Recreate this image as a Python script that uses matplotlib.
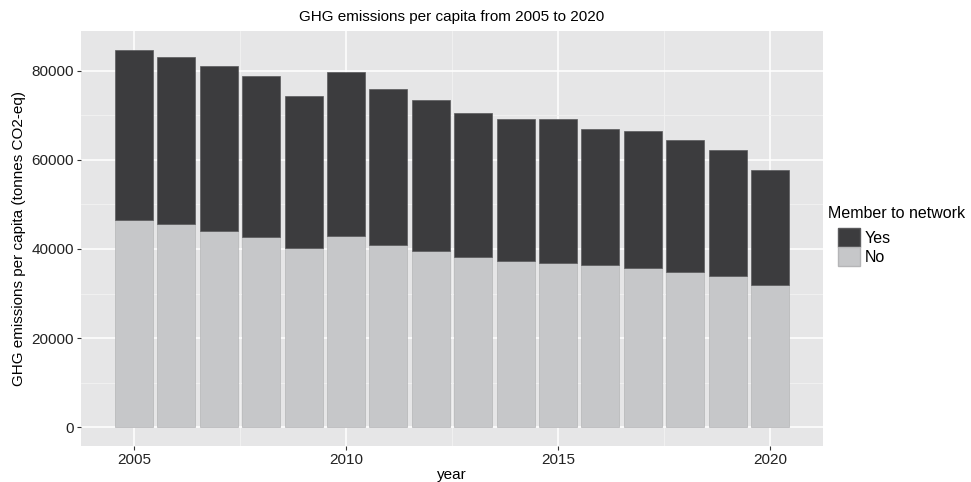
import numpy as np
import matplotlib
matplotlib.use("Agg")
import matplotlib.pyplot as plt
from matplotlib.patches import Patch

plt.rcParams['font.family'] = ['Liberation Sans', 'DejaVu Sans']

# data
years = np.arange(2005, 2021)
total = [84700, 83200, 81100, 78900, 74400, 79800, 76000, 73400,
         70500, 69100, 69100, 66900, 66400, 64400, 62200, 57700]
no_member = [46500, 45500, 44000, 42600, 40200, 43000, 41000, 39500,
             38300, 37300, 36900, 36400, 35700, 34800, 33900, 31800]
yes_member = [t - n for t, n in zip(total, no_member)]

dark = '#3c3c3e'
light = '#c6c7c9'

fig = plt.figure(figsize=(9.71, 4.82), dpi=100)
ax = fig.add_axes([0.0834, 0.0747, 0.7642, 0.861])
ax.set_facecolor('#e6e6e7')

ax.bar(years, no_member, width=0.9, color=light, edgecolor='#b5b5b7', linewidth=0.5, zorder=3)
ax.bar(years, yes_member, bottom=no_member, width=0.9, color=dark,
       edgecolor='#5a5a5c', linewidth=0.5, zorder=3)

ax.set_xlim(2003.75, 2021.25)
ax.set_ylim(-4235, 88935)
ax.set_xticks([2005, 2010, 2015, 2020])
ax.set_xticks([2007.5, 2012.5, 2017.5], minor=True)
ax.set_yticks([0, 20000, 40000, 60000, 80000])
ax.set_yticks([10000, 30000, 50000, 70000], minor=True)
ax.grid(which='major', color='white', linewidth=1.1, zorder=0)
ax.grid(which='minor', color='#f2f2f2', linewidth=0.6, zorder=0)
ax.set_axisbelow(True)
for s in ax.spines.values():
    s.set_visible(False)
ax.tick_params(which='major', length=3, pad=2, color='#333333', labelcolor='#222222', labelsize=11)
ax.tick_params(which='minor', length=0)

ax.set_title('GHG emissions per capita from 2005 to 2020', fontsize=11, pad=7)
ax.set_xlabel('year', fontsize=11, labelpad=1)
ax.set_ylabel('GHG emissions per capita (tonnes CO2-eq)', fontsize=11, labelpad=4)

# legend, title drawn separately so the keys sit indented like ggplot
fig.text(828 / 971, 1 - 213 / 482, 'Member to network', fontsize=11.5, va='center', ha='left')
handles = [Patch(facecolor=dark, edgecolor='#5a5a5c'), Patch(facecolor=light, edgecolor='#b5b5b7')]
fig.legend(handles, ['Yes', 'No'], loc='upper left', bbox_to_anchor=(838 / 971, 1 - 228 / 482),
           frameon=False, fontsize=11.5, handlelength=1.35, handleheight=1.45,
           handletextpad=0.3, labelspacing=0.0, borderpad=0, borderaxespad=0)

fig.savefig('out.png', dpi=100)
